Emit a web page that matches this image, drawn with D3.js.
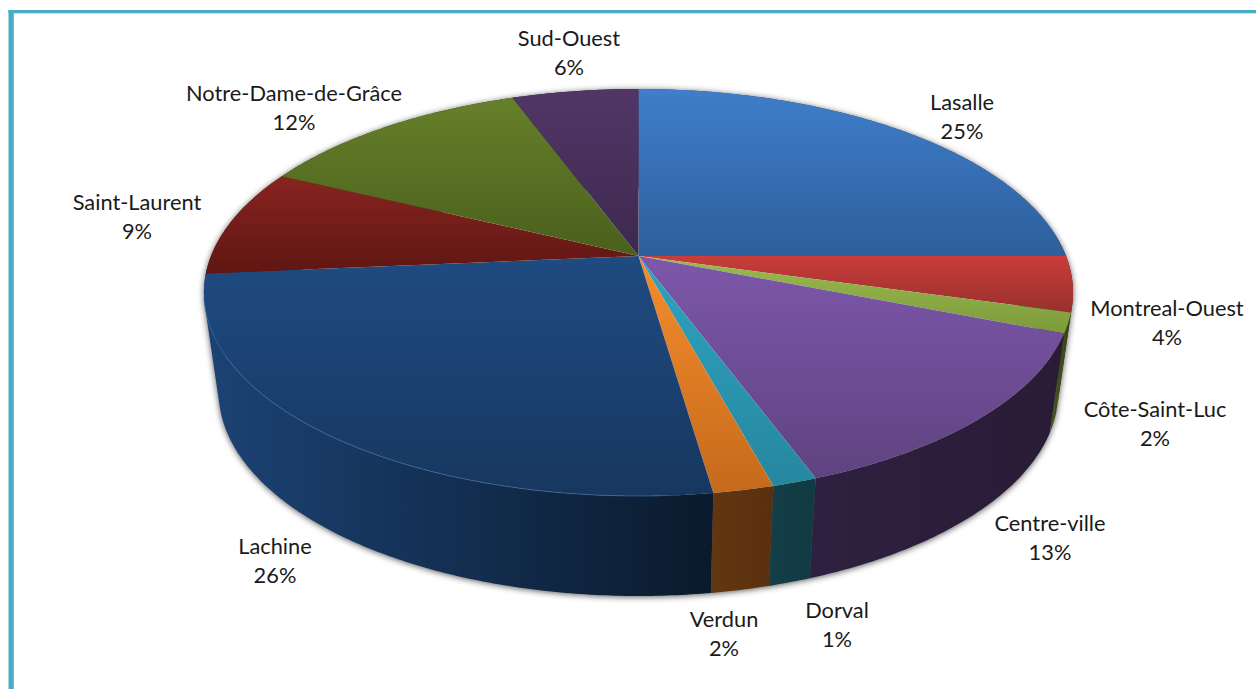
<!DOCTYPE html>
<html>
<head>
<meta charset="utf-8">
<title>Pie</title>
<script src="https://cdn.jsdelivr.net/npm/d3@7"></script>
<style>
    html, body { margin: 0; background: #fff; overflow: hidden; }
    text { font-family: Lato, "Open Sans", sans-serif; font-size: 21.8px; fill: #1a1a1a; text-anchor: middle; dominant-baseline: central; }
</style>
</head>
<body>
<div id="chart"></div>
<script>
const categories = ['Lasalle', 'Montreal-Ouest', 'Côte-Saint-Luc', 'Centre-ville', 'Dorval', 'Verdun', 'Lachine', 'Saint-Laurent', 'Notre-Dame-de-Grâce', 'Sud-Ouest'];
const values = [25, 4.4, 1.6, 13.4, 1.4, 1.9, 25.9, 8.6, 12.2, 5.6];

const topLight = ['#3f7ecb', '#c93d3a', '#9bbb4e', '#7d57ab', '#2fa3c0', '#f68d2c', '#1f4b82', '#882420', '#66802a', '#513667'];
const topDark = ['#2d5f9b', '#98302e', '#7d9a3c', '#5f4380', '#26879f', '#c56a1c', '#17375f', '#5f1612', '#4a5f1c', '#3d294d'];
const wallLight = ['#274f80', '#702524', '#46581d', '#2e2040', '#143f48', '#623610', '#1c4375', '#4d1412', '#3a4a16', '#2b1d3a'];
const wallDark = ['#1a3554', '#4e1a19', '#35431a', '#2a1c36', '#113a42', '#59300f', '#0a1a2c', '#3a0f0d', '#2a360f', '#20152c'];

// label centres, first line, in page pixels
const labelX = [962, 1167, 1155, 1050, 837, 724, 275, 137, 294, 569];
const labelY = [101, 307, 408, 522, 609, 618, 545, 201, 92, 37];
const lineGap = 29;

const width = 1256;
const height = 689;

// perspective of the two discs: u is right, v is toward the viewer, both -1..1
const cx = 638.5;
const topDisc = { r: 427.5, y0: 256, a: 151, c: -0.1794 };
const bottomDisc = { r: 413, y0: 355, a: 133.7, c: -0.18 };

function project(disc, angle) {
    const u = Math.sin(angle);
    const v = -Math.cos(angle);
    const w = 1 + disc.c * v;
    return [cx + disc.r * u / w, (disc.y0 + disc.a * v) / w];
}

function arcPoints(disc, a0, a1) {
    const n = Math.max(2, Math.ceil((a1 - a0) / 0.01));
    return d3.range(n + 1).map(i => project(disc, a0 + (a1 - a0) * i / n));
}

const line = d3.line();

// wall of one slice as a strip of small quads, all wound the same way,
// so the silhouette between the two discs is filled too
function wallPath(d) {
    const upper = arcPoints(topDisc, d.startAngle, d.endAngle);
    const lower = arcPoints(bottomDisc, d.startAngle, d.endAngle);
    return d3.range(upper.length - 1).map(i => {
        const quad = [upper[i], upper[i + 1], lower[i + 1], lower[i]];
        return line(d3.polygonArea(quad) < 0 ? quad.reverse() : quad) + 'Z';
    }).join('');
}

const pie = d3.pie().sort(null).value(d => d);
const slices = pie(values);
const total = d3.sum(values);

const svg = d3.select('#chart')
    .append('svg')
    .attr('width', width)
    .attr('height', height)
    .attr('viewBox', [0, 0, width, height]);

const defs = svg.append('defs');

slices.forEach((d, i) => {
    const gt = defs.append('linearGradient').attr('id', 'top' + i)
        .attr('x1', 0).attr('y1', 0).attr('x2', 0).attr('y2', 1);
    gt.append('stop').attr('offset', '0%').attr('stop-color', topLight[i]);
    gt.append('stop').attr('offset', '100%').attr('stop-color', topDark[i]);

    const gw = defs.append('linearGradient').attr('id', 'wall' + i)
        .attr('x1', 0).attr('y1', 0).attr('x2', 1).attr('y2', 0);
    gw.append('stop').attr('offset', '0%').attr('stop-color', wallLight[i]);
    gw.append('stop').attr('offset', '100%').attr('stop-color', wallDark[i]);
});

// side walls, back to front
const walls = slices.slice().sort((a, b) =>
    -Math.cos((a.startAngle + a.endAngle) / 2) - -Math.cos((b.startAngle + b.endAngle) / 2));

svg.append('g')
    .style('filter', 'drop-shadow(0px 1px 3px rgba(0,0,0,0.65))')
    .selectAll('path')
    .data(walls)
    .join('path')
        .attr('d', wallPath)
        .attr('fill', d => 'url(#wall' + d.index + ')');

// top faces
svg.append('g')
    .selectAll('path')
    .data(slices)
    .join('path')
        .attr('d', d => line([[cx, topDisc.y0]].concat(arcPoints(topDisc, d.startAngle, d.endAngle))) + 'Z')
        .attr('fill', d => 'url(#top' + d.index + ')');

// light rim on the front edge of the big slice
svg.append('path')
    .attr('d', line(arcPoints(topDisc, slices[6].startAngle + 0.1, slices[6].endAngle - 0.12)))
    .attr('fill', 'none')
    .attr('stroke', '#3f6fa8')
    .attr('stroke-opacity', 0.7)
    .attr('stroke-width', 1);

// frame, top and left only
svg.append('rect')
    .attr('x', 8.5).attr('y', 10)
    .attr('width', width).attr('height', 3.3)
    .attr('fill', '#4bacc6');
svg.append('rect')
    .attr('x', 8.5).attr('y', 10)
    .attr('width', 5.3).attr('height', height)
    .attr('fill', '#4bacc6');

const labels = svg.append('g')
    .selectAll('text')
    .data(categories)
    .join('text')
        .attr('x', (d, i) => labelX[i])
        .attr('y', (d, i) => labelY[i]);

labels.append('tspan').text(d => d);
labels.append('tspan')
    .attr('x', (d, i) => labelX[i])
    .attr('dy', lineGap)
    .text((d, i) => Math.round(values[i] / total * 100) + '%');
</script>
</body>
</html>
